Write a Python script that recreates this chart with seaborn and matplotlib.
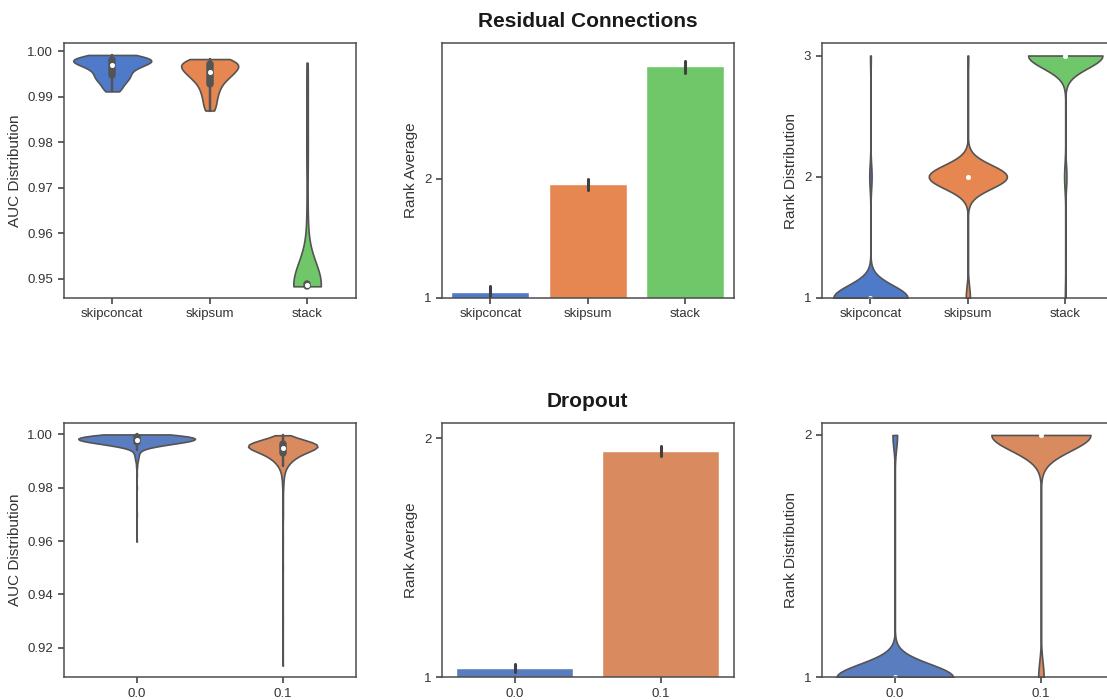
import numpy as np
import pandas as pd
import matplotlib
matplotlib.use("Agg")
import matplotlib.pyplot as plt
import seaborn as sns

# --- data ---
res_cats = ["skipconcat", "skipsum", "stack"]
drop_cats = ["0.0", "0.1"]

# AUC samples per residual type
auc_skipconcat = [0.9912, 0.9918, 0.9925, 0.9931, 0.9936, 0.9940, 0.9943, 0.9946, 0.9950, 0.9954,
                  0.9958, 0.9961, 0.9964, 0.9967, 0.9969, 0.9971, 0.9973, 0.9975, 0.9977, 0.9978,
                  0.9979, 0.9980, 0.9981, 0.9983, 0.9984, 0.9986, 0.9987, 0.9989, 0.9990, 0.9992]
auc_skipsum = [0.9870, 0.9880, 0.9890, 0.9900, 0.9908, 0.9915, 0.9922, 0.9928, 0.9933, 0.9938,
               0.9942, 0.9945, 0.9948, 0.9951, 0.9953, 0.9955, 0.9958, 0.9961, 0.9964, 0.9966,
               0.9968, 0.9970, 0.9972, 0.9974, 0.9976, 0.9977, 0.9978, 0.9980, 0.9981, 0.9983]
auc_stack = [0.9484, 0.9484, 0.9484, 0.9484, 0.9484, 0.9484, 0.9485, 0.9485, 0.9485, 0.9485,
             0.9485, 0.9485, 0.9485, 0.9486, 0.9486, 0.9486, 0.9486, 0.9486, 0.9486, 0.9487,
             0.9487, 0.9487, 0.9487, 0.9488, 0.9488, 0.9488, 0.9488, 0.9488, 0.9505, 0.9530,
             0.9570, 0.9640, 0.9750, 0.9820, 0.9900, 0.9975]

# AUC per dropout value, as binned values + how many runs landed there (500 runs each)
auc_drop00_vals = [0.9598, 0.9700, 0.9800, 0.9850, 0.9880, 0.9900, 0.9910, 0.9920, 0.9930, 0.9940,
                   0.9950, 0.9955, 0.9960, 0.9965, 0.9970, 0.9975, 0.9980, 0.9985, 0.9990, 0.9995,
                   1.0000]
auc_drop00_counts = [1, 1, 1, 1, 2, 3, 3, 4, 5, 8,
                     14, 18, 25, 35, 45, 55, 62, 62, 58, 50,
                     47]
auc_drop01_vals = [0.9132, 0.9300, 0.9500, 0.9600, 0.9700, 0.9750, 0.9800, 0.9830, 0.9850, 0.9870,
                   0.9880, 0.9890, 0.9900, 0.9910, 0.9920, 0.9930, 0.9940, 0.9950, 0.9955, 0.9960,
                   0.9965, 0.9970, 0.9975, 0.9980, 0.9985, 0.9990, 0.9997]
auc_drop01_counts = [1, 1, 1, 1, 2, 2, 3, 4, 5, 7,
                     8, 10, 16, 22, 30, 38, 48, 55, 55, 55,
                     47, 40, 25, 12, 6, 4, 2]

# how often each option got rank 1 / 2 / 3
res_ranks = [1, 2, 3]
rank_counts_skipconcat = [96, 3, 1]
rank_counts_skipsum = [5, 94, 1]
rank_counts_stack = [1, 3, 96]

drop_ranks = [1, 2]
rank_counts_drop00 = [481, 19]
rank_counts_drop01 = [26, 474]

# --- long form tables ---
df_res_auc = pd.DataFrame({
    "opt": ["skipconcat"] * len(auc_skipconcat) + ["skipsum"] * len(auc_skipsum) + ["stack"] * len(auc_stack),
    "auc": auc_skipconcat + auc_skipsum + auc_stack,
})


def counts_table(cats, vals_list, counts_list, col):
    rows = []
    for c, vals, counts in zip(cats, vals_list, counts_list):
        rows.append(pd.DataFrame({"opt": c, col: np.repeat(vals, counts)}))
    return pd.concat(rows, ignore_index=True)


df_drop_auc = counts_table(drop_cats, [auc_drop00_vals, auc_drop01_vals],
                           [auc_drop00_counts, auc_drop01_counts], "auc")
df_res_rank = counts_table(res_cats, [res_ranks] * 3,
                           [rank_counts_skipconcat, rank_counts_skipsum, rank_counts_stack], "rank")
df_drop_rank = counts_table(drop_cats, [drop_ranks] * 2,
                            [rank_counts_drop00, rank_counts_drop01], "rank")

# --- style ---
sns.set_theme(style="ticks", palette="muted")
plt.rcParams["font.family"] = ["Liberation Sans", "DejaVu Sans"]
plt.rcParams.update({
    "axes.edgecolor": ".3",
    "axes.linewidth": 1.1,
    "xtick.color": ".3",
    "ytick.color": ".3",
    "xtick.labelcolor": ".2",
    "ytick.labelcolor": ".2",
    "xtick.major.size": 4,
    "ytick.major.size": 4,
    "xtick.labelsize": 9.5,
    "ytick.labelsize": 9.5,
    "axes.labelsize": 11,
    "axes.labelcolor": ".2",
})

pal = sns.color_palette("muted", 3)

fig = plt.figure(figsize=(11.07, 7.0), dpi=100)
W, H = 0.264, 0.3635
lefts = [0.0574, 0.399, 0.7423]
bottoms = [0.5745, 0.0324]
axes = [[fig.add_axes([l, b, W, H]) for l in lefts] for b in bottoms]

inner = {"marker": "o", "markersize": 3.0, "markeredgewidth": 0.6}


def draw_row(row, auc_df, rank_df, cats, sat, bw_auc, ticks):
    colors = pal[:len(cats)]
    ax = axes[row][0]
    sns.violinplot(data=auc_df, x="opt", y="auc", hue="opt", order=cats, hue_order=cats,
                   palette=colors, saturation=sat, cut=0, bw_adjust=bw_auc, common_norm=True,
                   linewidth=1.2, inner_kws=inner, legend=False, ax=ax)
    ax.set_xlabel("")
    ax.set_ylabel("AUC Distribution")

    ax = axes[row][1]
    sns.barplot(data=rank_df, x="opt", y="rank", hue="opt", order=cats, hue_order=cats,
                palette=colors, saturation=sat, errorbar=("ci", 95), seed=0,
                err_kws={"linewidth": 2.2, "color": ".25"}, legend=False, ax=ax)
    ax.set_ylim(bottom=1)
    ax.set_yticks([1, 2])
    ax.set_xlabel("")
    ax.set_ylabel("Rank Average")

    ax = axes[row][2]
    sns.violinplot(data=rank_df, x="opt", y="rank", hue="opt", order=cats, hue_order=cats,
                   palette=colors, saturation=sat, cut=0, linewidth=1.2, common_norm=True,
                   inner_kws=inner, legend=False, ax=ax)
    ax.set_ylim(bottom=1)
    ax.set_yticks(ticks)
    ax.set_xlabel("")
    ax.set_ylabel("Rank Distribution")


draw_row(0, df_res_auc, df_res_rank, res_cats, 0.9, 0.8, [1, 2, 3])
draw_row(1, df_drop_auc, df_drop_rank, drop_cats, 0.75, 1.0, [1, 2])

fig.text(0.531, 0.961, "Residual Connections", ha="center", va="baseline",
         fontsize=15, fontweight="bold", color=".1")
fig.text(0.531, 0.419, "Dropout", ha="center", va="baseline",
         fontsize=15, fontweight="bold", color=".1")

fig.savefig("out.png", dpi=100)
